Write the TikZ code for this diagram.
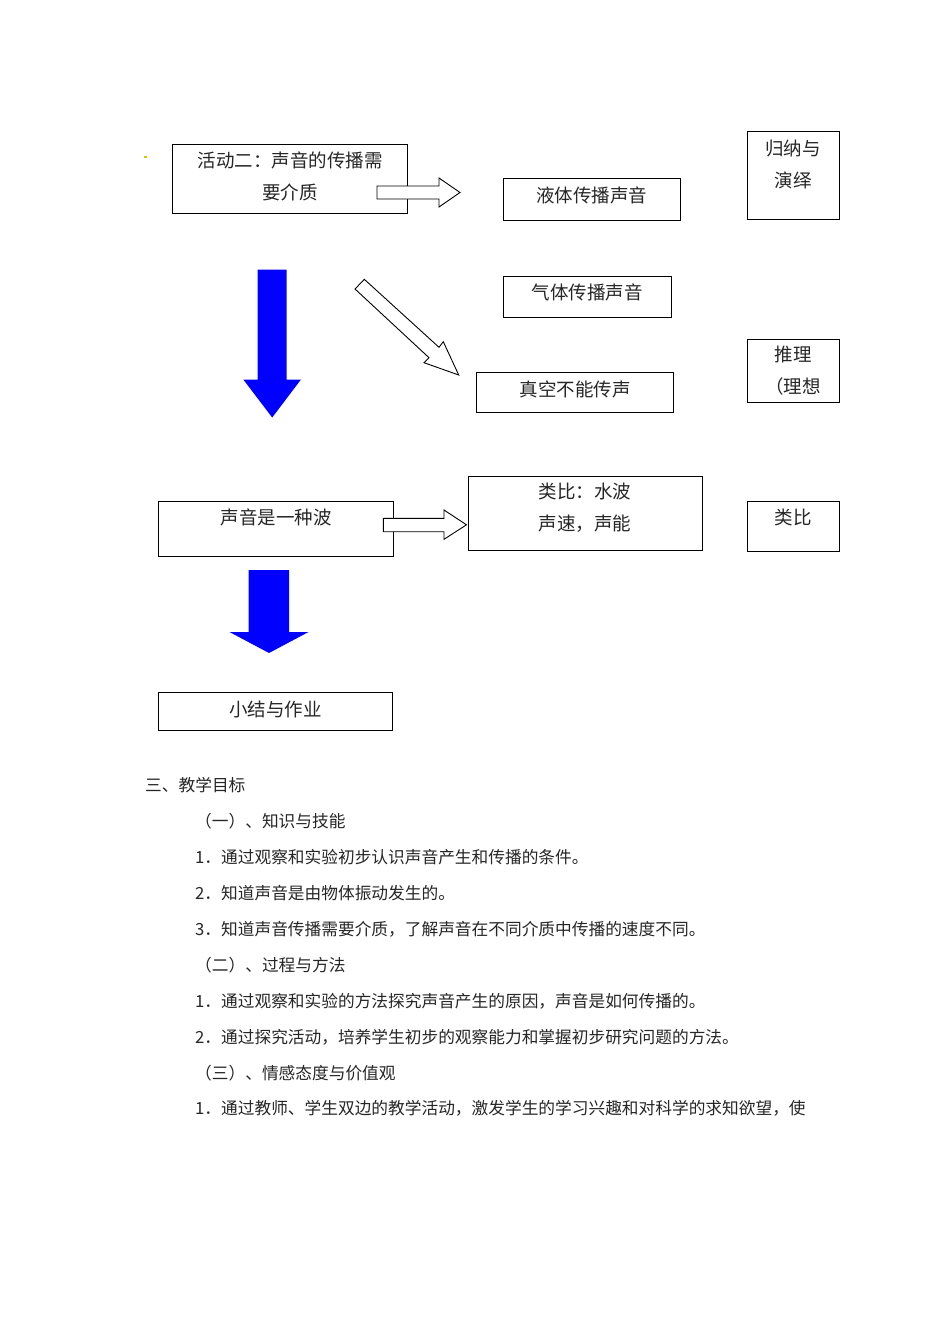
\documentclass[tikz,border=0pt]{standalone}
\usepackage{fontspec}
\setmainfont{Noto Sans CJK SC}
\begin{document}
\begin{tikzpicture}[x=1pt,y=-1pt,
  box/.style={draw=black,line width=0.9pt,inner sep=0pt},
  lbl/.style={inner sep=0pt,font=\fontsize{18.5}{32}\selectfont,align=center,text=black!85},
  body/.style={inner sep=0pt,anchor=west,font=\fontsize{16.7}{20}\selectfont,text=black!85},
  hollow/.style={draw=black,fill=white,line width=0.9pt,line join=miter},
  solid/.style={fill=blue,draw=none}]
\useasboundingbox (0,0) rectangle (950,1344);
\fill[white] (0,0) rectangle (950,1344);
% boxes
\draw[box] (172,144) rectangle (407,213);
\node[box,minimum width=177pt,minimum height=42pt] (liq) at (591.5,199) {};
\node[box,minimum width=168pt,minimum height=41pt] (gas) at (587,296.5) {};
\node[box,minimum width=197pt,minimum height=40pt] (vac) at (574.5,392) {};
\node[box,minimum width=235pt,minimum height=55pt] (wave) at (275.5,528.5) {};
\node[box,minimum width=234pt,minimum height=74pt] (anal) at (585,513) {};
\node[box,minimum width=234pt,minimum height=38pt] (summ) at (275,711) {};
\node[box,minimum width=92pt,minimum height=88pt] (r1) at (793,175) {};
\node[box,minimum width=92pt,minimum height=63pt] (r2) at (793,370.5) {};
\node[box,minimum width=92pt,minimum height=50pt] (r3) at (793,526) {};
% small dot
\fill[yellow!60!olive] (144,155.5) rectangle (146.5,158);
% arrows
\draw[hollow] (377,186) -- (439,186) -- (439,178) -- (460,192.5) -- (439,207) -- (439,199) -- (377,199) -- cycle;
\draw[hollow] (364.3,279.3) -- (439,347.3) -- (443.3,341.7) -- (458.7,375) -- (424,362.7) -- (429,357.7) -- (355,289) -- cycle;
\draw[hollow] (383.3,518.3) -- (444,518.3) -- (444,510) -- (466.5,524.8) -- (444,539.3) -- (444,531.7) -- (383.3,531.7) -- cycle;
\fill[solid] (257.7,269.5) -- (286.7,269.5) -- (286.7,379.5) -- (301,379.5) -- (272.2,417.5) -- (243.3,379.5) -- (257.7,379.5) -- cycle;
\fill[solid] (248.5,570) -- (289,570) -- (289,632) -- (308.5,632) -- (269,653) -- (229.5,632) -- (248.5,632) -- cycle;
% box labels
\node[lbl] (tA) at (290,176) {活动二：声音的传播需\\要介质};
\node[lbl] (tliq) at (591.5,195) {液体传播声音};
\node[lbl] (tgas) at (587,292) {气体传播声音};
\node[lbl] (tvac) at (575,389) {真空不能传声};
\node[lbl] (twave) at (276,517) {声音是一种波};
\node[lbl] (tanal) at (585,507.5) {类比：水波\\声速，声能};
\node[lbl] (tsumm) at (275.5,709) {小结与作业};
\node[lbl] (tr1) at (793,164) {归纳与\\演绎};
\node[lbl] (tr2) at (793,371) {推理\\（理想};
\node[lbl] (tr3) at (793,517) {类比};
% body text
\node[body] (l0) at (145,785) {三、教学目标};
\node[body] (l1) at (195,821) {（一）、知识与技能};
\node[body] (l2) at (195,857) {1．通过观察和实验初步认识声音产生和传播的条件。};
\node[body] (l3) at (195,893) {2．知道声音是由物体振动发生的。};
\node[body] (l4) at (195,929) {3．知道声音传播需要介质，了解声音在不同介质中传播的速度不同。};
\node[body] (l5) at (195,965) {（二）、过程与方法};
\node[body] (l6) at (195,1001) {1．通过观察和实验的方法探究声音产生的原因，声音是如何传播的。};
\node[body] (l7) at (195,1037) {2．通过探究活动，培养学生初步的观察能力和掌握初步研究问题的方法。};
\node[body] (l8) at (195,1073) {（三）、情感态度与价值观};
\node[body] (l9) at (195,1108) {1．通过教师、学生双边的教学活动，激发学生的学习兴趣和对科学的求知欲望，使};
\end{tikzpicture}
\end{document}
